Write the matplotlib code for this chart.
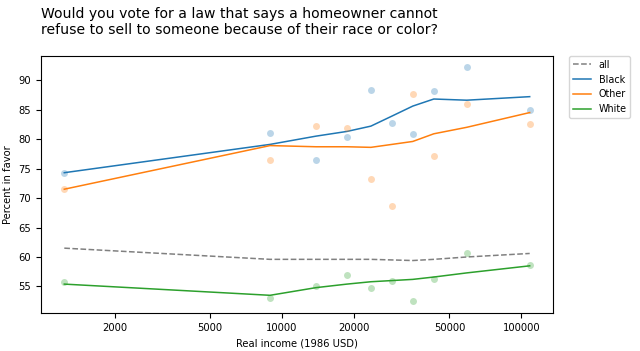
import numpy as np
import matplotlib.pyplot as plt

# income bins (1986 USD), one value per decile
income = [1233, 8913, 13860, 18670, 23500, 28770, 35160, 43040, 59060, 108200]

# raw percent in favor by group
black_pts = [74.2, 81.1, 76.5, 80.3, 88.4, 82.7, 80.8, 88.1, 92.2, 84.9]
other_pts = [71.5, 76.5, 82.3, 81.8, 73.3, 68.6, 87.7, 77.2, 85.9, 82.5]
white_pts = [55.7, 53.0, 55.1, 56.9, 54.8, 56.0, 52.5, 56.2, 60.6, 58.6]

# smoothed curves
all_line = [61.5, 59.6, 59.6, 59.6, 59.6, 59.5, 59.4, 59.6, 60.0, 60.6]
black_line = [74.3, 79.1, 80.5, 81.3, 82.2, 83.9, 85.6, 86.8, 86.6, 87.2]
other_line = [71.5, 78.9, 78.7, 78.7, 78.6, 79.1, 79.6, 80.9, 82.0, 84.5]
white_line = [55.4, 53.5, 54.8, 55.4, 55.8, 56.0, 56.2, 56.6, 57.3, 58.5]

xticks = [2000, 5000, 10000, 20000, 50000, 100000]

plt.rcParams['font.size'] = 7.2

fig = plt.figure(figsize=(6.4, 3.51), dpi=100)
ax = fig.add_axes([0.0641, 0.1083, 0.7999, 0.7322])

ax.plot(income, all_line, '--', color='gray', label='all', lw=1.1)
groups = [('Black', black_pts, black_line, 'C0'),
          ('Other', other_pts, other_line, 'C1'),
          ('White', white_pts, white_line, 'C2')]
for name, pts, line, c in groups:
    ax.plot(income, line, color=c, label=name, lw=1.1)
    ax.plot(income, pts, 'o', color=c, alpha=0.3, ms=5, mew=0)

ax.set_xscale('log')
ax.set_xticks(xticks)
ax.set_xticklabels([str(t) for t in xticks])
ax.minorticks_off()
ax.set_yticks([55, 60, 65, 70, 75, 80, 85, 90])
ax.set_ylim(50.5, 94.1)

ax.set_xlabel('Real income (1986 USD)')
ax.set_ylabel('Percent in favor')

ax.legend(loc='upper left', bbox_to_anchor=(1.031, 1.0), borderaxespad=0,
          fontsize=6.9, handlelength=1.9)

fig.text(0.0641, 0.98, 'Would you vote for a law that says a homeowner cannot\n'
         'refuse to sell to someone because of their race or color?',
         ha='left', va='top', fontsize=10.05)

plt.savefig('out.png', dpi=100)
